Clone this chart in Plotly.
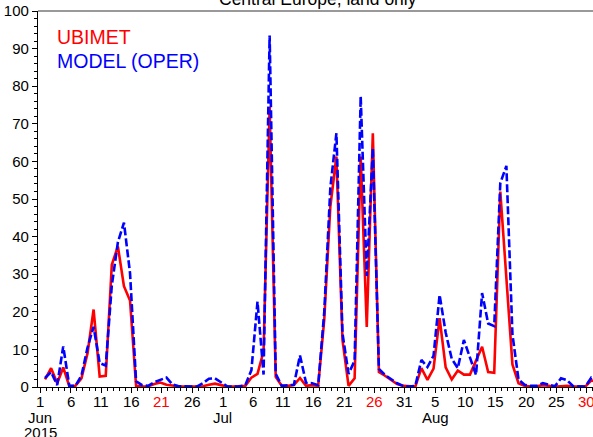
import plotly.graph_objects as go
import pandas as pd

# Daily precipitation index, Jun 1 .. Aug 31 2015
start_date = "2015-06-01"
ubimet = [2.0, 5.0, 1.0, 5.2, 0.2, 0.3, 2.3, 9.0, 20.6, 2.8,
          3.0, 32.5, 37.4, 26.8, 23.0, 0.3, 0.1, 0.2, 0.8, 1.2,
          0.6, 0.3, 0.2, 0.1, 0.1, 0.1, 0.2, 0.6, 0.9, 0.5,
          0.1, 0.1, 0.1, 0.3, 2.5, 3.5, 9.5, 74.5, 2.7, 0.3,
          0.3, 0.5, 2.4, 0.3, 0.5, 0.3, 18.0, 48.0, 61.3, 12.5,
          0.3, 2.3, 61.3, 16.0, 67.5, 4.0, 3.0, 2.0, 0.8, 0.3,
          0.1, 0.1, 5.0, 1.9, 4.9, 18.3, 5.2, 2.0, 4.4, 3.3,
          3.3, 7.0, 10.7, 4.0, 3.8, 52.0, 30.0, 6.0, 1.0, 0.3,
          0.1, 0.2, 0.5, 0.3, 0.1, 0.2, 0.3, 0.1, 0.1, 0.1,
          1.8, 1.2]
model_oper = [2.4, 4.0, 0.5, 10.8, 0.3, 0.3, 3.0, 10.5, 16.0, 6.4,
              5.7, 27.0, 38.5, 43.7, 30.3, 1.5, 0.5, 0.3, 1.3, 1.8,
              2.5, 0.7, 0.2, 0.2, 0.2, 0.1, 1.0, 2.2, 2.3, 1.2,
              0.2, 0.1, 0.1, 0.5, 4.5, 22.7, 3.3, 93.5, 3.5, 0.3,
              0.5, 0.6, 8.4, 1.1, 1.0, 0.5, 20.0, 53.0, 67.5, 14.3,
              3.5, 7.0, 77.3, 29.5, 63.5, 4.8, 3.2, 2.2, 1.0, 0.3,
              0.1, 0.3, 7.2, 5.3, 8.3, 24.5, 14.5, 7.5, 5.0, 12.5,
              7.8, 3.2, 25.0, 16.9, 16.2, 54.2, 58.8, 14.0, 2.0, 0.6,
              0.3, 0.3, 1.0, 0.7, 0.2, 2.3, 1.8, 0.2, 0.1, 0.1,
              2.5, 2.0]

tick_dates = ["2015-06-01", "2015-06-06", "2015-06-11", "2015-06-16", "2015-06-21",
              "2015-06-26", "2015-07-01", "2015-07-06", "2015-07-11", "2015-07-16",
              "2015-07-21", "2015-07-26", "2015-07-31", "2015-08-05", "2015-08-10",
              "2015-08-15", "2015-08-20", "2015-08-25", "2015-08-30"]
tick_labels = ["1", "6", "11", "16", "21", "26", "1", "6", "11", "16",
               "21", "26", "31", "5", "10", "15", "20", "25", "30"]
sunday_labels = ["2015-06-21", "2015-07-26", "2015-08-30"]
month_labels = [("2015-06-01", "Jun"), ("2015-07-01", "Jul"), ("2015-08-05", "Aug")]
year_label = ("2015-06-01", "2015")
y_ticks = list(range(0, 101, 10))

x = pd.date_range(start_date, periods=len(ubimet), freq="D") + pd.Timedelta(hours=18)

FONT = "Liberation Sans, Arial, Helvetica, sans-serif"

fig = go.Figure()
fig.add_trace(go.Scatter(x=x, y=ubimet, mode="lines",
                         line=dict(color="#ff0000", width=2.6), name="UBIMET"))
fig.add_trace(go.Scatter(x=x, y=model_oper, mode="lines",
                         line=dict(color="#0000ff", width=2.6, dash="8px,3px"),
                         name="MODEL (OPER)"))

fig.update_layout(
    width=593, height=437,
    margin=dict(l=38, r=0, t=11, b=50),
    paper_bgcolor="white", plot_bgcolor="white",
    showlegend=False,
    font=dict(family=FONT, size=15, color="black"),
)
fig.update_xaxes(
    type="date",
    range=["2015-05-31 14:10", "2015-08-31 00:30"],
    tickmode="array", tickvals=tick_dates, showticklabels=False,
    ticks="outside", ticklen=5, tickwidth=1, tickcolor="black",
    showline=True, linecolor="black", linewidth=1.2,
    showgrid=False, zeroline=False,
    minor=dict(tickmode="linear", tick0="2015-06-01", dtick=86400000,
               ticks="outside", ticklen=3, tickcolor="black", showgrid=False),
)
fig.update_yaxes(
    range=[0, 100],
    tickmode="array", tickvals=y_ticks,
    ticks="outside", ticklen=5, tickwidth=1, tickcolor="black",
    showline=True, linecolor="black", linewidth=1.2,
    showgrid=False, zeroline=False,
    tickfont=dict(family=FONT, size=15, color="black"),
    minor=dict(tickmode="linear", tick0=0, dtick=2,
               ticks="outside", ticklen=3, tickcolor="black", showgrid=False),
)

# top frame line
fig.add_shape(type="line", xref="paper", yref="paper", x0=0, x1=1, y0=1, y1=1,
              line=dict(color="#999999", width=2))

# day numbers (Sundays in red)
for d, t in zip(tick_dates, tick_labels):
    col = "#ff0000" if d in sunday_labels else "black"
    fig.add_annotation(x=d, y=0, xref="x", yref="paper", text=t, showarrow=False,
                       xanchor="center", yanchor="middle", yshift=-14,
                       font=dict(family=FONT, size=15, color=col))

# month / year labels under the day numbers
for d, t in month_labels:
    fig.add_annotation(x=d, y=0, xref="x", yref="paper", text=t, showarrow=False,
                       xanchor="center", yanchor="middle", yshift=-30,
                       font=dict(family=FONT, size=15, color="black"))
fig.add_annotation(x=year_label[0], y=0, xref="x", yref="paper", text=year_label[1],
                   showarrow=False, xanchor="center", yanchor="middle", yshift=-45,
                   font=dict(family=FONT, size=15, color="black"))

# legend as coloured text
fig.add_annotation(x=0.0306, y=0.931, xref="paper", yref="paper", text="UBIMET",
                   showarrow=False, xanchor="left", yanchor="middle",
                   font=dict(family=FONT, size=19.5, color="#ff0000"))
fig.add_annotation(x=0.0306, y=0.867, xref="paper", yref="paper", text="MODEL (OPER)",
                   showarrow=False, xanchor="left", yanchor="middle",
                   font=dict(family=FONT, size=19.5, color="#0000ff"))

# title (partly cut off at top)
fig.add_annotation(x=(317.5 - 38) / 555, y=1, xref="paper", yref="paper",
                   text="Central Europe, land only", showarrow=False,
                   xanchor="center", yanchor="middle", yshift=12.5,
                   font=dict(family=FONT, size=17.5, color="black"))

fig.write_html("out.html")
